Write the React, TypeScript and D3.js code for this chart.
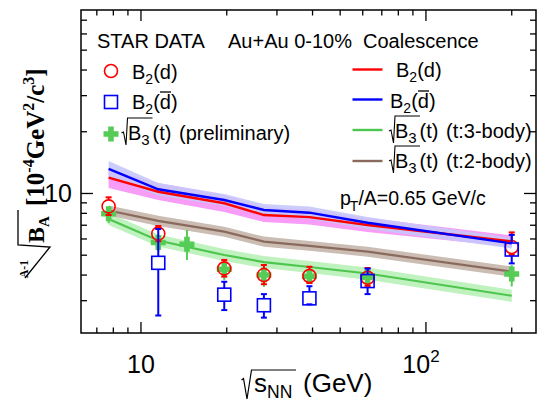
import React from 'react';
import * as d3 from 'd3';

// ---- data ----
const b2dE = [7.7, 11.5, 19.6, 27, 39, 62.4, 200];
const b2dVal = [8.65, 6.37, 4.31, 4.0, 3.96, 3.88, 5.48];
const b2dHi = [9.58, 6.94, 4.74, 4.48, 4.39, 4.33, 6.46];
const b2dLo = [7.85, 5.85, 3.93, 3.61, 3.66, 3.54, 5.01];

const b2dbarE = [11.5, 19.6, 27, 39, 62.4, 200];
const b2dbarVal = [4.59, 3.21, 2.85, 3.08, 3.74, 5.33];
const b2dbarHi = [6.71, 3.71, 3.23, 3.53, 4.3, 6.28];
const b2dbarLo = [2.54, 2.7, 2.48, 2.88, 3.23, 4.56];

const b3tE = [7.7, 11.5, 14.5, 19.6, 27, 39, 62.4, 200];
const b3tVal = [7.97, 5.77, 5.65, 4.27, 4.0, 3.95, 3.9, 4.05];
const b3tHi = [8.62, 6.0, 6.64, 4.67, 4.24, 4.15, 4.15, 4.47];
const b3tLo = [7.16, 5.22, 4.74, 3.78, 3.5, 3.75, 3.65, 3.52];

const modelE = [7.7, 11.5, 19.6, 27, 39, 62.4, 200];
const coalDbar = [13.17, 10.48, 9.29, 8.31, 8.06, 7.2, 5.71];
const coalDbarHi = [14.4, 11.25, 9.94, 8.89, 8.64, 7.68, 6.07];
const coalDbarLo = [12.04, 9.78, 8.69, 7.77, 7.51, 6.71, 5.39];
const coalD = [11.94, 10.2, 8.96, 7.85, 7.67, 7.02, 5.84];
const coalDHi = [13.21, 11.25, 9.83, 8.59, 8.36, 7.6, 6.24];
const coalDLo = [10.64, 9.3, 8.12, 7.26, 7.06, 6.49, 5.48];
const coalT2 = [8.26, 7.35, 6.51, 5.82, 5.55, 5.2, 4.16];
const coalT2Hi = [8.74, 7.78, 6.89, 6.16, 5.87, 5.5, 4.4];
const coalT2Lo = [7.81, 6.95, 6.15, 5.5, 5.25, 4.92, 3.93];
const coalT3 = [7.51, 5.9, 5.01, 4.63, 4.38, 4.07, 3.17];
const coalT3Hi = [8.03, 6.31, 5.36, 4.95, 4.69, 4.35, 3.39];
const coalT3Lo = [7.02, 5.52, 4.68, 4.33, 4.09, 3.8, 2.96];

const xMajor = [10, 100];
const xMinor = [7, 8, 9, 20, 30, 40, 50, 60, 70, 80, 90, 200];
const yMajor = [10];
const yMinor = [3, 4, 5, 6, 7, 8, 9, 20, 30, 40, 50, 60, 70];

const RED = '#ff0000';
const BLUE = '#0000ff';
const GREEN = '#55cc55';
const GREENLINE = '#4ec64e';
const GREENBAND = '#bff2bf';
const BROWN = '#8a6a5c';
const BROWNBAND = '#cbbcb4';
const PINK = '#f79cf7';
const LAVENDER = '#c8c8fb';

const SANS = "'Liberation Sans', Arial, Helvetica, sans-serif";
const SERIF = "'Liberation Serif', 'Times New Roman', serif";

export default function App() {
  const L = 81, R = 536, T = 10, B = 333;
  const x = d3.scaleLog().domain([6.16, 243.3]).range([L, R]);
  const y = d3.scaleLog().domain([2.087, 78.5]).range([B, T]);

  const line = d3.line<number>().x((_, i) => x(modelE[i])).y((d) => y(d));
  const area = (hi: number[], lo: number[]) =>
    d3.area<number>().x((_, i) => x(modelE[i])).y0((_, i) => y(lo[i])).y1((d) => y(d))(hi) || '';

  const errBar = (xv: number, v: number, hi: number, lo: number, h: number, color: string, caps: boolean, key: string) => {
    const cx = x(xv), cy = y(v), yh = y(hi), yl = y(lo);
    const els: any[] = [];
    if (cy - h > yh) els.push(<line key={key + 'a'} x1={cx} x2={cx} y1={yh} y2={cy - h} />);
    if (yl > cy + h) els.push(<line key={key + 'b'} x1={cx} x2={cx} y1={cy + h} y2={yl} />);
    if (caps) {
      els.push(<line key={key + 'c'} x1={cx - 3} x2={cx + 3} y1={yh} y2={yh} />);
      els.push(<line key={key + 'd'} x1={cx - 3} x2={cx + 3} y1={yl} y2={yl} />);
    }
    return <g key={key} stroke={color} strokeWidth={2}>{els}</g>;
  };

  const crossPath = (cx: number, cy: number) => {
    const a = 7.5, b = 2.8;
    return `M${cx - b},${cy - a}H${cx + b}V${cy - b}H${cx + a}V${cy + b}H${cx + b}V${cy + a}H${cx - b}V${cy + b}H${cx - a}V${cy - b}H${cx - b}Z`;
  };

  const radical = (x0: number, base: number, w: number, scale = 1) => {
    const top = base - 22 * scale, bot = base + 5 * scale, mid = base - 8 * scale;
    return `M${x0},${mid + 1}L${x0 + 2 * scale},${mid}L${x0 + 4.5 * scale},${bot}L${x0 + 6 * scale},${top}L${x0 + 6 * scale + w},${top}`;
  };

  return (
    <svg width={537} height={402} style={{ position: 'absolute', left: 0, top: 0, background: '#fff' }}
      fontFamily={SANS}>
      <rect x={0} y={0} width={537} height={402} fill="#fff" />
      {/* bands */}
      <path d={area(coalT3Hi, coalT3Lo)} fill={GREENBAND} />
      <path d={area(coalT2Hi, coalT2Lo)} fill={BROWNBAND} />
      <path d={area(coalDHi, coalDLo)} fill={PINK} />
      <path d={area(coalDbarHi, coalDbarLo)} fill={LAVENDER} fillOpacity={0.9} />
      {/* lines */}
      <path d={line(coalT3) || ''} fill="none" stroke={GREENLINE} strokeWidth={2.2} />
      <path d={line(coalT2) || ''} fill="none" stroke={BROWN} strokeWidth={2.2} />
      <path d={line(coalD) || ''} fill="none" stroke={RED} strokeWidth={2.4} />
      <path d={line(coalDbar) || ''} fill="none" stroke={BLUE} strokeWidth={2.4} />

      {/* green crosses */}
      {b3tE.map((e, i) => errBar(e, b3tVal[i], b3tHi[i], b3tLo[i], 0, GREEN, false, 'ge' + i))}
      {b3tE.map((e, i) => <path key={'g' + i} d={crossPath(x(e), y(b3tVal[i]))} fill={GREEN} />)}
      {/* red circles */}
      {b2dE.map((e, i) => errBar(e, b2dVal[i], b2dHi[i], b2dLo[i], 6.5, RED, true, 're' + i))}
      {b2dE.map((e, i) => <circle key={'r' + i} cx={x(e)} cy={y(b2dVal[i])} r={6.5} fill="none" stroke={RED} strokeWidth={1.6} />)}
      {/* blue squares */}
      {b2dbarE.map((e, i) => errBar(e, b2dbarVal[i], b2dbarHi[i], b2dbarLo[i], 6.5, BLUE, true, 'be' + i))}
      {b2dbarE.map((e, i) => <rect key={'b' + i} x={x(e) - 6.5} y={y(b2dbarVal[i]) - 6.5} width={13} height={13} fill="none" stroke={BLUE} strokeWidth={1.6} />)}

      {/* frame */}
      <rect x={L} y={T} width={R - L} height={B - T} fill="none" stroke="#000" strokeWidth={1.5} />
      <g stroke="#000" strokeWidth={1.3}>
        {xMajor.map((t) => (
          <g key={'xM' + t}>
            <line x1={x(t)} x2={x(t)} y1={B} y2={B - 11} />
            <line x1={x(t)} x2={x(t)} y1={T} y2={T + 11} />
          </g>
        ))}
        {xMinor.map((t) => (
          <g key={'xm' + t}>
            <line x1={x(t)} x2={x(t)} y1={B} y2={B - 5.5} />
            <line x1={x(t)} x2={x(t)} y1={T} y2={T + 5.5} />
          </g>
        ))}
        {yMajor.map((t) => (
          <g key={'yM' + t}>
            <line x1={L} x2={L + 12} y1={y(t)} y2={y(t)} />
            <line x1={R} x2={R - 12} y1={y(t)} y2={y(t)} />
          </g>
        ))}
        {yMinor.map((t) => (
          <g key={'ym' + t}>
            <line x1={L} x2={L + 6} y1={y(t)} y2={y(t)} />
            <line x1={R} x2={R - 6} y1={y(t)} y2={y(t)} />
          </g>
        ))}
      </g>
      {/* tick labels */}
      <text x={72} y={y(10) + 9} fontSize={25} textAnchor="end">10</text>
      <text x={x(10)} y={373} fontSize={25} textAnchor="middle">10</text>
      <text x={x(100) - 5} y={373} fontSize={25} textAnchor="middle">10<tspan dy={-11} fontSize={17}>2</tspan></text>

      {/* x title */}
      <path d="M241.5,380L243.5,378.5L247,399L251.5,370L296,370" fill="none" stroke="#000" strokeWidth={1.2} />
      <text x={254} y={392} fontSize={26}>s</text>
      <text x={267} y={398} fontSize={17.5}>NN</text>
      <text x={303} y={392} fontSize={26}>(GeV)</text>

      {/* y title */}
      <g transform="translate(44,278) rotate(-90)" fontFamily={SERIF} fontWeight="bold">
        <text x={0} y={-16} fontSize={11.5}>A-1</text>
        <path d="M0,-19L31,6L33,-26L68,-26" fill="none" stroke="#000" strokeWidth={1.3} />
        <text x={35} y={0} fontSize={24}>B<tspan dy={5} fontSize={15}>A</tspan></text>
        <text x={72} y={0} fontSize={25}>[10<tspan dy={-10} fontSize={16}>-4</tspan><tspan dy={10} fontSize={25}>GeV</tspan><tspan dy={-10} fontSize={16}>2</tspan><tspan dy={10} fontSize={25}>/c</tspan><tspan dy={-10} fontSize={16}>3</tspan><tspan dy={10} fontSize={25}>]</tspan></text>
      </g>

      {/* header */}
      <text x={97} y={48} fontSize={20}>STAR DATA</text>
      <text x={228} y={48} fontSize={20}>Au+Au 0-10%</text>
      <text x={363} y={48} fontSize={20}>Coalescence</text>

      {/* left legend */}
      <circle cx={111} cy={71} r={6.5} fill="none" stroke={RED} strokeWidth={1.6} />
      <text x={132} y={79} fontSize={20}>B<tspan dy={5} fontSize={14}>2</tspan><tspan dy={-5} fontSize={20}>(d)</tspan></text>
      <rect x={104.5} y={95.5} width={13} height={13} fill="none" stroke={BLUE} strokeWidth={1.6} />
      <text x={132} y={109} fontSize={20}>B<tspan dy={5} fontSize={14}>2</tspan><tspan dy={-5} fontSize={20}>(d)</tspan></text>
      <line x1={160} x2={171} y1={92} y2={92} stroke="#000" strokeWidth={1.3} />
      <path d={crossPath(111, 134)} fill={GREEN} />
      <path d={radical(121.5, 140, 25)} fill="none" stroke="#000" strokeWidth={1.1} />
      <text x={128} y={140} fontSize={20}>B<tspan dy={5} fontSize={15}>3</tspan></text>
      <text x={152.5} y={140} fontSize={20}>(t)</text>
      <text x={179} y={140} fontSize={20}>(preliminary)</text>

      {/* right legend */}
      <line x1={352.5} x2={382.5} y1={69.5} y2={69.5} stroke={RED} strokeWidth={2.4} />
      <text x={396} y={77} fontSize={20}>B<tspan dy={5} fontSize={14}>2</tspan><tspan dy={-5} fontSize={20}>(d)</tspan></text>
      <line x1={352.5} x2={382.5} y1={99.5} y2={99.5} stroke={BLUE} strokeWidth={2.4} />
      <text x={390} y={108} fontSize={20}>B<tspan dy={5} fontSize={14}>2</tspan><tspan dy={-5} fontSize={20}>(d)</tspan></text>
      <line x1={418} x2={429} y1={91} y2={91} stroke="#000" strokeWidth={1.3} />
      <line x1={352.5} x2={382.5} y1={130} y2={130} stroke={GREENLINE} strokeWidth={2.4} />
      <path d={radical(389, 138, 25)} fill="none" stroke="#000" strokeWidth={1.1} />
      <text x={395} y={138} fontSize={20}>B<tspan dy={5} fontSize={15}>3</tspan></text>
      <text x={419.5} y={138} fontSize={20}>(t)</text>
      <text x={446} y={138} fontSize={20}>(t:3-body)</text>
      <line x1={352.5} x2={382.5} y1={161} y2={161} stroke={BROWN} strokeWidth={2.4} />
      <path d={radical(389, 168, 25)} fill="none" stroke="#000" strokeWidth={1.1} />
      <text x={395} y={168} fontSize={20}>B<tspan dy={5} fontSize={15}>3</tspan></text>
      <text x={419.5} y={168} fontSize={20}>(t)</text>
      <text x={446} y={168} fontSize={20}>(t:2-body)</text>

      {/* pT annotation */}
      <text x={340} y={205} fontSize={19.5}>p<tspan dy={6} dx={-1} fontSize={14}>T</tspan><tspan dy={-6} fontSize={19.5}>/A=0.65 GeV/c</tspan></text>
    </svg>
  );
}
